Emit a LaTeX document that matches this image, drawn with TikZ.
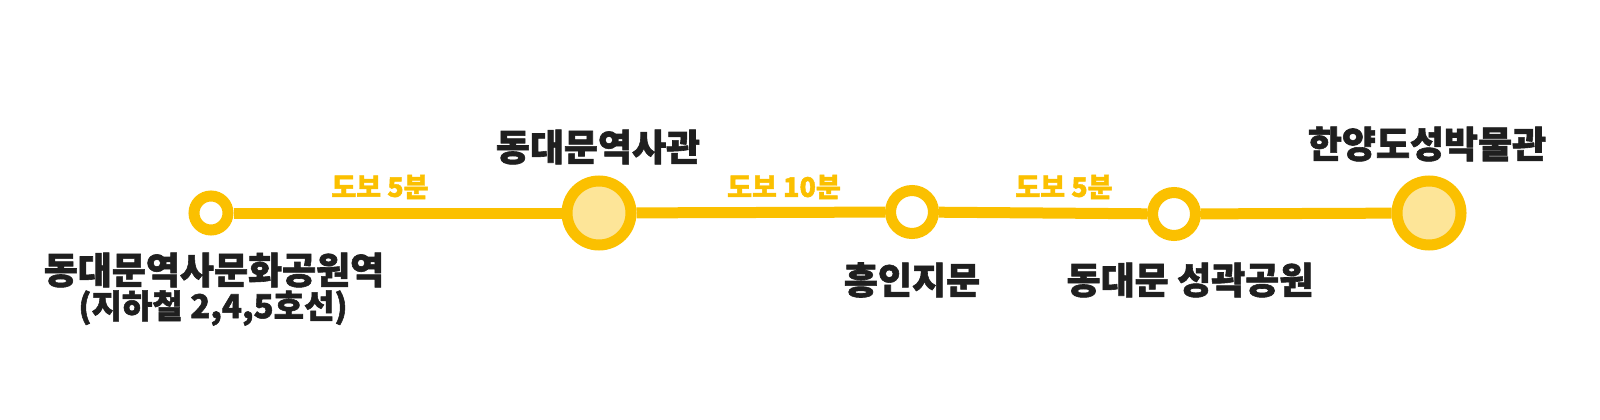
\documentclass[tikz,border=0pt]{standalone}
\usepackage{fontspec}
\newfontfamily\krfont[BoldFeatures={FakeBold=1.6}]{Noto Sans CJK KR}
\usepackage{tikz}
\usetikzlibrary{positioning}
\definecolor{lineyellow}{RGB}{251,192,0}
\definecolor{stopfill}{RGB}{253,229,152}

\begin{document}
\begin{tikzpicture}[x=1pt,y=-1pt,
  smallstop/.style={circle,draw=lineyellow,fill=white,line width=11pt,inner sep=0pt},
  bigstop/.style={circle,draw=lineyellow,fill=stopfill,line width=11pt,inner sep=0pt,minimum size=64pt},
  rail/.style={draw=lineyellow,line width=11pt},
  stopname/.style={font=\krfont\bfseries\fontsize{37}{40}\selectfont,text=black!88,align=center,inner sep=0pt},
  walk/.style={font=\krfont\bfseries\fontsize{27}{30}\selectfont,text=lineyellow,inner sep=0pt}]

\useasboundingbox (0,0) rectangle (1600,420);

\node[smallstop,minimum size=34pt] (ddp) at (211,213) {};
\node[bigstop] (hall) at (599,213) {};
\node[smallstop,minimum size=43pt] (hij) at (912,212) {};
\node[smallstop,minimum size=43pt] (park) at (1174,214) {};
\node[bigstop] (museum) at (1429,213) {};

\draw[rail] (ddp) -- (hall);
\draw[rail] (hall) -- (hij);
\draw[rail] (hij) -- (park);
\draw[rail] (park) -- (museum);

\node[walk] (w1) at (380,187) {도보 5분};
\node[walk] (w2) at (784,187) {도보 10분};
\node[walk] (w3) at (1064,187) {도보 5분};

\node[stopname] (ddpname) at (214,270) {동대문역사문화공원역};
\node[stopname,font=\krfont\bfseries\fontsize{33}{36}\selectfont] (ddpline) at (213,308) {(지하철 2,4,5호선)};
\node[stopname] (hallname) at (598,147) {동대문역사관};
\node[stopname] (hijname) at (912,280) {흥인지문};
\node[stopname] (parkname) at (1190,280) {동대문 성곽공원};
\node[stopname] (museumname) at (1427,144) {한양도성박물관};
\end{tikzpicture}
\end{document}
